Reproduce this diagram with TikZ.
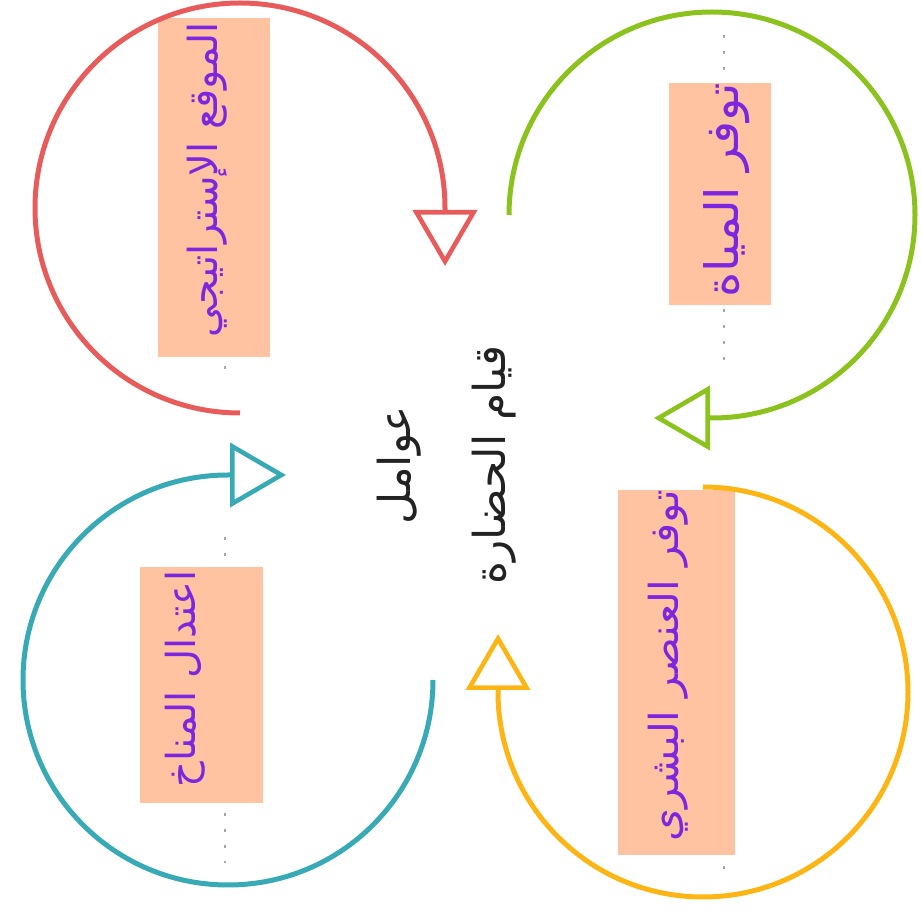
\documentclass[tikz,border=0pt]{standalone}
\usepackage{fontspec}
\newfontfamily\arabicfont[Script=Arabic]{DejaVu Sans}
\TeXXeTstate=1
\usetikzlibrary{arrows.meta}
\definecolor{cred}{HTML}{E85B5B}
\definecolor{cgreen}{HTML}{8CC21E}
\definecolor{cyellow}{HTML}{FDB515}
\definecolor{cteal}{HTML}{38AAB6}
\definecolor{boxfill}{HTML}{FFC3A2}
\definecolor{labeltext}{HTML}{7D26DF}
\definecolor{centertext}{HTML}{222222}
\begin{document}
\begin{tikzpicture}[x=1pt,y=1pt,
  ringarrow/.style={line width=5pt,
    -{Triangle[open,length=56pt,width=64pt,line width=4.6pt]}},
  labelbox/.style={rectangle, fill=boxfill, draw=none, inner sep=0pt},
  labeltxt/.style={rotate=90, anchor=east, inner sep=0pt, text=labeltext,
    font=\arabicfont\fontsize{40}{46}\selectfont},
  dotline/.style={gray!70, line width=2.6pt, dash pattern=on 2.6pt off 13.4pt}]
\useasboundingbox (0,0) rectangle (922,911);

% label boxes
\node[labelbox, minimum width=112pt, minimum height=339pt] (boxred) at (214,723.5) {};
\node[labelbox, minimum width=102pt, minimum height=222pt] (boxgreen) at (720,717) {};
\node[labelbox, minimum width=117pt, minimum height=365pt] (boxyellow) at (676.5,238.5) {};
\node[labelbox, minimum width=123pt, minimum height=236pt] (boxteal) at (201.5,226) {};

% label texts
\node[labeltxt, font=\arabicfont\fontsize{46}{52}\selectfont, xscale=1.05] (txtgreen) at (727,828) {\beginR توفر المياة\endR};
\node[labeltxt] (txtred) at (207,889) {\beginR الموقع الإستراتيجي\endR};
\node[labeltxt, xscale=1.05] (txtyellow) at (668,421) {\beginR توفر العنصر البشري\endR};
\node[labeltxt] (txtteal) at (185,341) {\beginR اعتدال المناخ\endR};

% centre text
\node[rotate=90, align=center, text=centertext, inner sep=0pt,
  font=\arabicfont\fontsize{44}{95}\selectfont] (centre) at (447,446)
  {\beginR عوامل\endR\\\beginR قيام الحضارة\endR};

% dotted leaders
\draw[dotline] (225,545) -- (225,540);
\draw[dotline] (225,374) -- (225,352);
\draw[dotline] (225,98) -- (225,48);
\draw[dotline] (724,876) -- (724,836);
\draw[dotline] (724,602) -- (724,550);
\draw[dotline] (724,45) -- (724,40);

% ring arrows
\coordinate (rstart) at (240,498);
\coordinate (gstart) at (509,696);
\coordinate (ystart) at (703,424);
\coordinate (tstart) at (433,231);
\draw[ringarrow, cred] (rstart) arc[start angle=270, end angle=0, radius=205pt] -- ++(0,-58);
\draw[ringarrow, cgreen] (gstart) arc[start angle=180, end angle=-90, radius=203pt] -- ++(-58,0);
\draw[ringarrow, cyellow] (ystart) arc[start angle=90, end angle=-180, radius=205pt] -- ++(0,58);
\draw[ringarrow, cteal] (tstart) arc[start angle=0, end angle=-270, radius=205pt] -- ++(58,0);
\end{tikzpicture}
\end{document}
